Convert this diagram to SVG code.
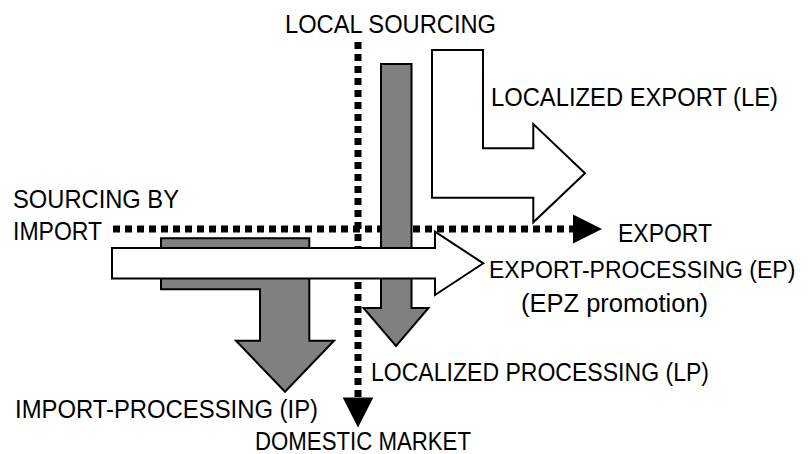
<svg xmlns="http://www.w3.org/2000/svg" width="812" height="454" viewBox="0 0 812 454">
  <defs>
    <style>
      .lbl { font-family: "Liberation Sans", Arial, sans-serif; font-size: 25.5px; fill: #000; }
      .dots { fill: none; stroke: #000; stroke-width: 7; stroke-dasharray: 7 5; }
      .grey { fill: #808080; stroke: #000; stroke-width: 2; stroke-linejoin: miter; }
      .white { fill: #fff; stroke: #000; stroke-width: 2; stroke-linejoin: miter; }
    </style>
    <marker id="head-right" markerUnits="userSpaceOnUse" markerWidth="30" markerHeight="30" refX="0" refY="14.5" orient="auto" overflow="visible">
      <path d="M0,0 L29,14.5 L0,29 Z" fill="#000"/>
    </marker>
    <marker id="head-down" markerUnits="userSpaceOnUse" markerWidth="32" markerHeight="32" refX="0" refY="15.3" orient="auto" overflow="visible">
      <path d="M0,0 L30,15.3 L0,30.6 Z" fill="#000"/>
    </marker>
  </defs>
  <rect width="812" height="454" fill="#fff"/>

  <!-- dotted axes: sourcing (vertical) and market (horizontal) -->
  <g id="connectors">
    <line class="dots" x1="113" y1="229" x2="573" y2="229" marker-end="url(#head-right)"/>
    <line class="dots" x1="358" y1="42" x2="358" y2="397.5" marker-end="url(#head-down)"/>
  </g>

  <!-- localized processing (LP) -->
  <g id="lp-arrow">
    <polygon class="grey" points="381,64 411.5,64 411.5,308 428.5,308 396,346 363.5,308 381,308"/>
  </g>

  <!-- import-processing (IP) -->
  <g id="ip-arrow">
    <polygon class="grey" points="161,238.3 309.3,238.3 309.3,340.7 334,340.7 285,391.7 236,340.7 260,340.7 260,289.3 161,289.3"/>
  </g>

  <!-- localized export (LE) -->
  <g id="le-arrow">
    <polygon class="white" points="432,50 483,50 483,148.3 533.3,148.3 533.3,124 585,173.3 533.3,222.3 533.3,197.7 432,197.7"/>
  </g>

  <!-- export-processing (EP) -->
  <g id="ep-arrow">
    <polygon class="white" points="112,248 435,248 435,231.7 483.3,263.3 435,295 435,278.5 112,278.5"/>
  </g>

  <!-- labels -->
  <g id="labels">
    <text class="lbl" x="285" y="33" textLength="211" lengthAdjust="spacingAndGlyphs">LOCAL SOURCING</text>
    <text class="lbl" x="491" y="106" textLength="287" lengthAdjust="spacingAndGlyphs">LOCALIZED EXPORT (LE)</text>
    <text class="lbl" x="13" y="208" textLength="166" lengthAdjust="spacingAndGlyphs">SOURCING BY</text>
    <text class="lbl" x="13" y="240" textLength="89" lengthAdjust="spacingAndGlyphs">IMPORT</text>
    <text class="lbl" x="618" y="242" textLength="94" lengthAdjust="spacingAndGlyphs">EXPORT</text>
    <text class="lbl" x="489" y="278" style="font-size:23px">EXPORT-PROCESSING (EP)</text>
    <text class="lbl" x="521" y="312">(EPZ promotion)</text>
    <text class="lbl" x="371" y="381" textLength="338" lengthAdjust="spacingAndGlyphs">LOCALIZED PROCESSING (LP)</text>
    <text class="lbl" x="15" y="418" textLength="303" lengthAdjust="spacingAndGlyphs">IMPORT-PROCESSING (IP)</text>
    <text class="lbl" x="255" y="450" textLength="216" lengthAdjust="spacingAndGlyphs">DOMESTIC MARKET</text>
  </g>
</svg>
